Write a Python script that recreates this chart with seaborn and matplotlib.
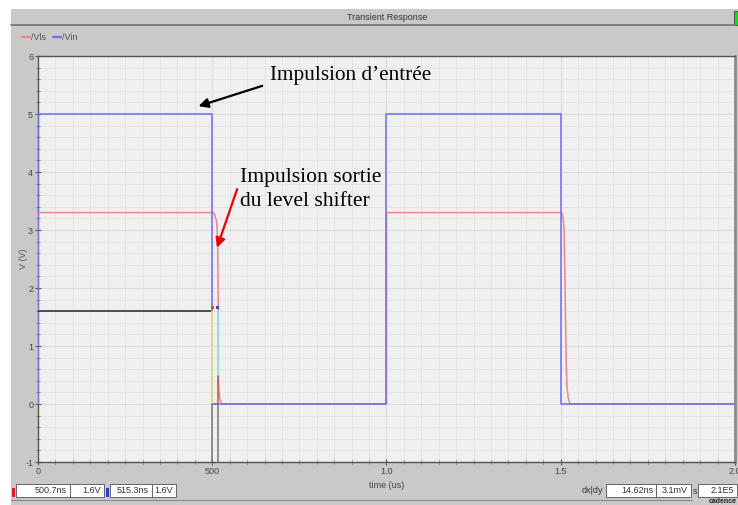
import matplotlib
matplotlib.use("Agg")
import matplotlib.pyplot as plt
import pandas as pd
import seaborn as sns
from matplotlib.patches import Rectangle
from matplotlib.lines import Line2D
from matplotlib.ticker import MultipleLocator, FixedLocator

# --- waveforms (time in us, voltage in V) ---
vin_t = [0.0, 0.0, 0.5005, 0.5005, 1.0, 1.0, 1.5, 1.5, 2.0]
vin_v = [0.0, 5.0, 5.0, 0.0, 0.0, 5.0, 5.0, 0.0, 0.0]

vls_t = [0.0, 0.0, 0.503, 0.508, 0.5126, 0.5155, 0.5172, 0.5175, 0.519, 0.522, 0.528,
         1.0, 1.0, 1.5015, 1.504, 1.507, 1.5095, 1.512, 1.5145, 1.516, 1.518, 1.521, 1.525, 1.528, 2.0]
vls_v = [0.0, 3.3, 3.3, 3.25, 3.14, 2.82, 1.72, 0.5, 0.25, 0.08, 0.0,
         0.0, 3.3, 3.3, 3.28, 3.2, 3.0, 2.2, 1.2, 0.6, 0.3, 0.12, 0.03, 0.0, 0.0]

signals = ["/Vls", "/Vin"]
signal_colors = ["#f08585", "#6c6cee"]

# --- cursors ---
cursor_t = [0.5007, 0.5153]
cursor_v = [1.6, 1.6]
cursor_colors = ["#f2f27a", "#7af0f0"]
cursor_labels = ["500.7ns", "1.6V", "515.3ns", "1.6V"]
delta_labels = ["14.62ns", "3.1mV", "2.1E5"]

# --- axis ticks ---
x_ticks = [0.0, 0.5, 1.0, 1.5, 2.0]
x_tick_labels = ["0", "500", "1.0", "1.5", "2.0"]
y_ticks = [-1, 0, 1, 2, 3, 4, 5, 6]

df = pd.concat([
    pd.DataFrame({"t": vls_t, "v": vls_v, "signal": "/Vls"}),
    pd.DataFrame({"t": vin_t, "v": vin_v, "signal": "/Vin"}),
], ignore_index=True)

sns.set_theme(style="white")
plt.rcParams["font.family"] = ["Liberation Sans", "DejaVu Sans"]
plt.rcParams["axes.unicode_minus"] = False

W, H = 738, 505
fig = plt.figure(figsize=(W / 100, H / 100), dpi=100, facecolor="white")


def fx(x):
    return x / W


def fy(y):
    return 1 - y / H


ui_gray = "#c9c9c9"
fig.patches.append(Rectangle((fx(11), 0), 1 - fx(11), fy(9), transform=fig.transFigure,
                             facecolor=ui_gray, edgecolor="none", zorder=-10))
# title bar separator
fig.lines.append(Line2D([fx(11), fx(735)], [fy(25), fy(25)], transform=fig.transFigure,
                        color="#7a7a7a", lw=1.3))
fig.patches.append(Rectangle((fx(734), fy(25)), fx(6), fy(11) - fy(25), transform=fig.transFigure,
                             facecolor="#22d422", edgecolor="#444444", lw=0.6))
fig.text(fx(387), fy(17), "Transient Response", ha="center", va="center", fontsize=6.5, color="#333333")

# legend
lx = [22, 53]
for name, col, x0 in zip(signals, signal_colors, lx):
    fig.lines.append(Line2D([fx(x0), fx(x0 + 8)], [fy(37), fy(37)], transform=fig.transFigure,
                            color=col, lw=1.6))
    fig.text(fx(x0 + 9), fy(37), name, ha="left", va="center", fontsize=6.5, color="#555555")

# plot area
ax = fig.add_axes([fx(38), fy(462), (735 - 38) / W, (462 - 56) / H])
ax.set_facecolor("#f0f0f0")

sns.lineplot(data=df, x="t", y="v", hue="signal", hue_order=signals, palette=signal_colors,
             sort=False, estimator=None, legend=False, lw=1.1, ax=ax, zorder=3)

# cursor traces
ax.plot([0.0, cursor_t[0]], [cursor_v[0], cursor_v[0]], color="#333333", lw=1.2, zorder=4)
ax.plot([cursor_t[0], cursor_t[0]], [cursor_v[0], 0.0], color=cursor_colors[0], lw=1.1, zorder=4)
ax.plot([cursor_t[1], cursor_t[1]], [cursor_v[1], 0.48], color=cursor_colors[1], lw=1.1, zorder=4)
ax.plot([cursor_t[0], cursor_t[0]], [0.0, -1.0], color="#777777", lw=1.1, zorder=4)
ax.plot([cursor_t[1], cursor_t[1]], [0.0, -1.0], color="#777777", lw=1.1, zorder=4)
ax.plot([cursor_t[1], cursor_t[1]], [0.48, 0.0], color="#b05a5a", lw=1.1, zorder=4)
ax.plot([cursor_t[0], cursor_t[1]], [0.0, 0.0], color="#777777", lw=1.1, zorder=2)
ax.scatter([cursor_t[0], cursor_t[1]], [1.66, 1.66], s=6, marker="s",
           c=["#e04040", "#4040e0"], zorder=5, linewidths=0)

ax.set_xlim(0, 2.0)
ax.set_ylim(-1, 6)
ax.xaxis.set_major_locator(FixedLocator(x_ticks))
ax.set_xticklabels(x_tick_labels)
ax.xaxis.set_minor_locator(MultipleLocator(0.05))
ax.set_yticks(y_ticks)
ax.yaxis.set_minor_locator(MultipleLocator(0.2))
ax.grid(True, which="major", color="#dcdcdc", lw=0.8, zorder=0)
ax.grid(True, which="minor", color="#e4e4e4", lw=0.7, zorder=0)
ax.set_axisbelow(True)

ax.tick_params(axis="both", which="major", direction="inout", length=4, width=0.8,
               color="#555555", labelsize=6.5, labelcolor="#444444", pad=1.5)
ax.tick_params(axis="both", which="minor", direction="inout", length=2.5, width=0.6, color="#777777")
ax.tick_params(axis="x", which="both", bottom=True)
ax.tick_params(axis="y", which="both", left=True)

for side in ["left", "bottom", "top"]:
    ax.spines[side].set_color("#555555")
    ax.spines[side].set_linewidth(1.0)
ax.spines["right"].set_color("#8a8a8a")
ax.spines["right"].set_linewidth(2.0)

ax.set_xlabel("time (us)", fontsize=6.5, color="#444444", labelpad=4)
ax.set_ylabel("V (V)", fontsize=6.5, color="#555555")
ax.yaxis.set_label_coords(-0.015, 0.5)

# annotations
serif = ["Liberation Serif", "DejaVu Serif"]
ax.text(0.666, 5.67, "Impulsion d\u2019entrée", family=serif, fontsize=15.3, color="black",
        ha="left", va="center", zorder=6)
ax.annotate("", xy=(0.453, 5.12), xytext=(0.651, 5.50),
            arrowprops=dict(arrowstyle="-|>", color="black", lw=1.6, mutation_scale=14), zorder=6)
ax.text(0.58, 3.70, "Impulsion sortie\ndu level shifter", family=serif, fontsize=15.6, color="black",
        ha="left", va="center", linespacing=1.32, zorder=6)
ax.annotate("", xy=(0.511, 2.65), xytext=(0.574, 3.75),
            arrowprops=dict(arrowstyle="-|>", color="#ee0000", lw=1.6, mutation_scale=14), zorder=6)


# status bar
def box(x0, x1, text):
    fig.patches.append(Rectangle((fx(x0), fy(497)), fx(x1 - x0), fy(484) - fy(497),
                                 transform=fig.transFigure, facecolor="white",
                                 edgecolor="#666666", lw=0.7))
    fig.text(fx(x1 - 3), fy(490.5), text, ha="right", va="center", fontsize=6.5, color="#333333")


fig.patches.append(Rectangle((fx(12), fy(497)), fx(3), fy(488) - fy(497), transform=fig.transFigure,
                             facecolor="#e02020", edgecolor="none"))
box(16, 70, cursor_labels[0])
box(70, 104, cursor_labels[1])
fig.patches.append(Rectangle((fx(106), fy(497)), fx(3), fy(488) - fy(497), transform=fig.transFigure,
                             facecolor="#2040e0", edgecolor="none"))
box(110, 152, cursor_labels[2])
box(152, 176, cursor_labels[3])

fig.text(fx(603), fy(490.5), "dx|dy", ha="right", va="center", fontsize=6.5, color="#333333")
box(606, 656, delta_labels[0])
box(656, 691, delta_labels[1])
fig.text(fx(693), fy(491.5), "s", ha="left", va="center", fontsize=6.5, color="#333333")
box(698, 737, delta_labels[2])

fig.lines.append(Line2D([fx(11), fx(692)], [fy(499.5), fy(499.5)], transform=fig.transFigure,
                        color="#888888", lw=0.8))
fig.text(fx(737), fy(501.5), "cadence", ha="right", va="center", fontsize=5, weight="bold",
         color="#222222")

fig.savefig("out.png", dpi=100, facecolor=fig.get_facecolor())
